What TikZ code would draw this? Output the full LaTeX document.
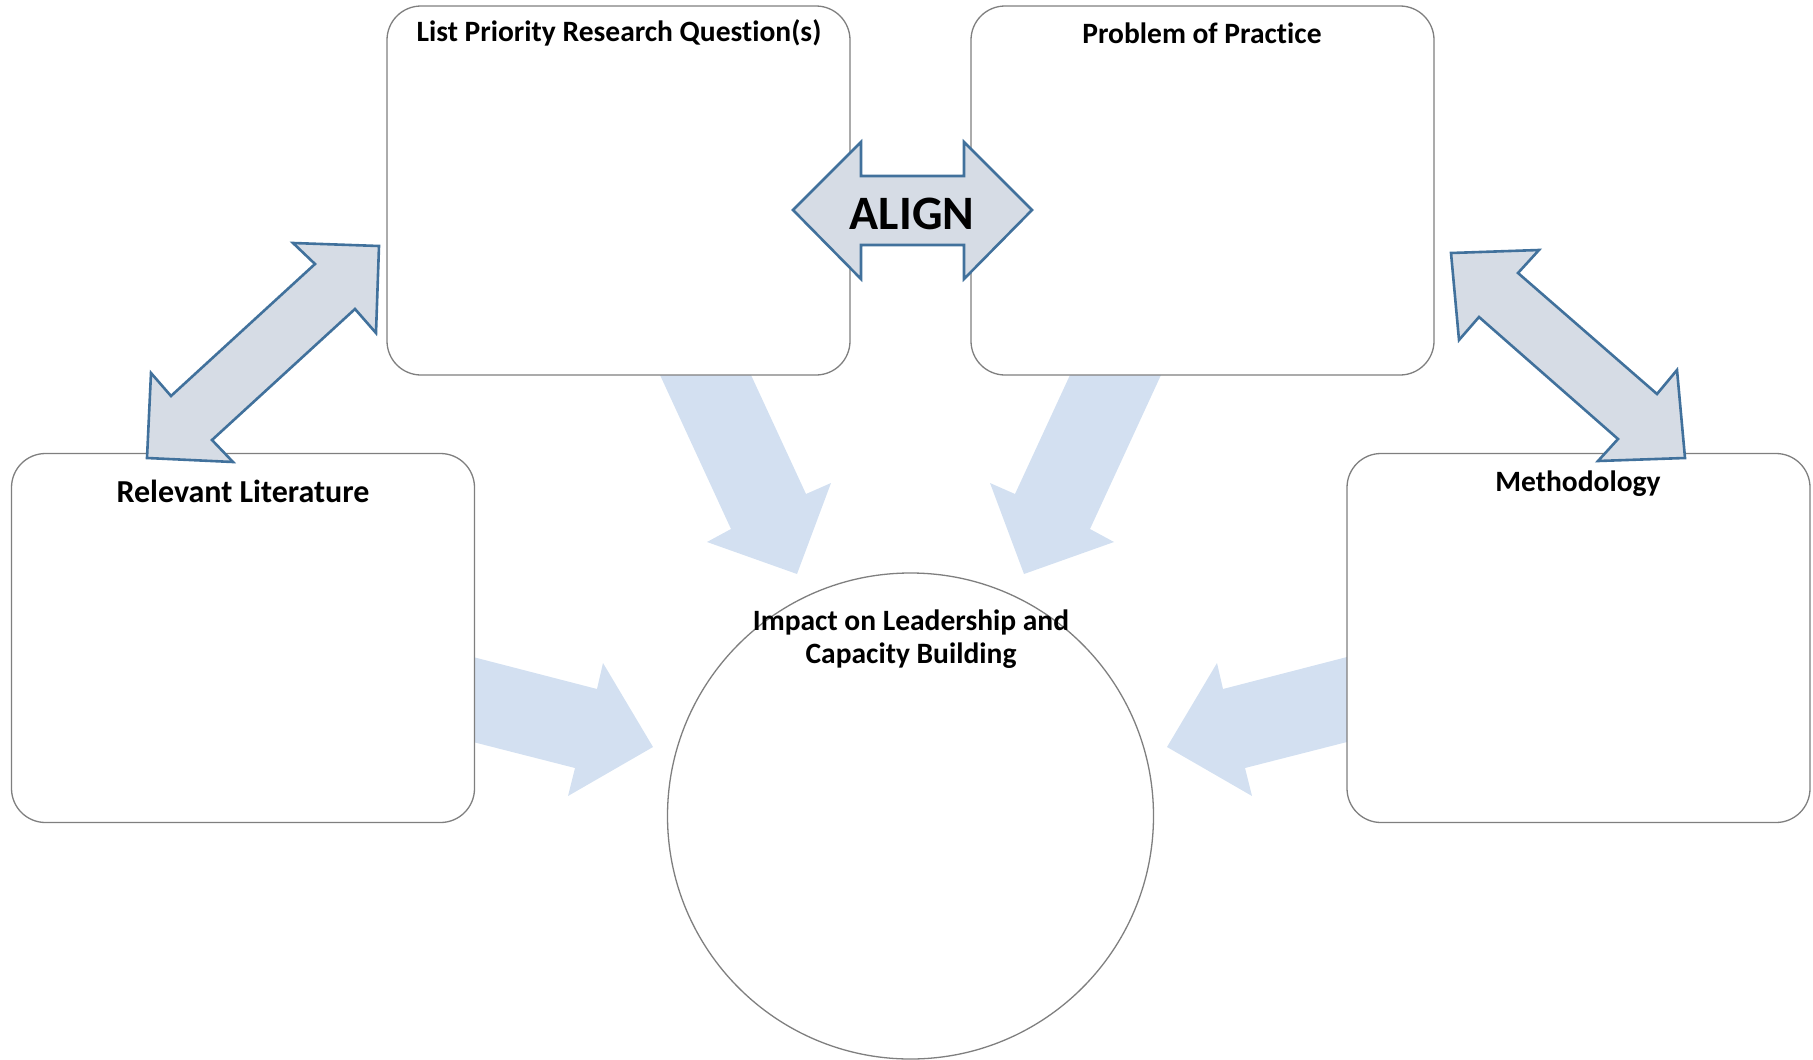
\documentclass[tikz,border=0pt]{standalone}
\usepackage{fontspec}
\setmainfont{Carlito}[Ligatures=NoCommon]
\begin{document}
\begin{tikzpicture}[x=1pt,y=-1pt,
  box/.style={draw=boxgray,line width=1.3pt,fill=white,rounded corners=34pt,inner sep=0pt,minimum width=463pt,minimum height=369pt},
  ttl/.style={font=\bfseries\fontsize{29.5}{32.5}\selectfont,inner sep=0pt,align=center},
  darrow/.style={draw=arrowblue,line width=2.6pt,fill=arrowfill,line join=miter},
  larrow/.style={fill=lightfill,draw=none}]
\definecolor{boxgray}{HTML}{7F7F7F}
\definecolor{arrowblue}{HTML}{41719C}
\definecolor{arrowfill}{HTML}{D6DCE5}
\definecolor{lightfill}{HTML}{D3E0F1}
\useasboundingbox (0,0) rectangle (1813,1060);
% light arrows
\fill[larrow] (660,375) -- (751,375) -- (806,494) -- (831,483) -- (797,574) -- (707,542) -- (731,529) -- cycle;
\fill[larrow] (1161,375) -- (1070,375) -- (1015,494) -- (990,483) -- (1024,574) -- (1114,542) -- (1090,529) -- cycle;
\fill[larrow] (473,657) -- (597,689) -- (603,663) -- (653,747) -- (568,796) -- (575,768) -- (473,742) -- cycle;
\fill[larrow] (1347,657) -- (1223,689) -- (1217,663) -- (1167,747) -- (1252,796) -- (1245,768) -- (1347,742) -- cycle;
% boxes
\node[box] (rq) at (618.5,190.5) {};
\node[box] (pop) at (1202.5,190.5) {};
\node[box] (lit) at (243,638) {};
\node[box] (meth) at (1578.5,638) {};
\node[draw=boxgray,line width=1.3pt,fill=white,circle,inner sep=0pt,minimum size=486pt] (imp) at (910.5,816) {};
% titles
\node[ttl] (rqt) at (619,33) {List Priority Research Question(s)};
\node[ttl] (popt) at (1202,33) {Problem of Practice};
\node[ttl,font=\bfseries\fontsize{32}{36}\selectfont] (litt) at (243,491) {Relevant Literature};
\node[ttl] (metht) at (1578,484) {Methodology};
\node[ttl] (impt) at (911,639) {Impact on Leadership and\\Capacity Building};
% dark arrows
\draw[darrow] (793,210) -- (861,142) -- (861,176) -- (964,176) -- (964,142) -- (1032,210) -- (964,279) -- (964,245) -- (861,245) -- (861,279) -- cycle;
\node[font=\bfseries\fontsize{48}{56}\selectfont,inner sep=0pt] (align) at (912,214) {ALIGN};
\draw[darrow] (379,246) -- (293,243) -- (315,264) -- (171,396) -- (151,373) -- (147,458) -- (233,462) -- (212,440) -- (355,309) -- (376,333) -- cycle;
\draw[darrow] (1451,253) -- (1539,250) -- (1518,273) -- (1657,394) -- (1677,370) -- (1685,458) -- (1598,461) -- (1618,439) -- (1479,317) -- (1459,340) -- cycle;
\end{tikzpicture}
\end{document}
